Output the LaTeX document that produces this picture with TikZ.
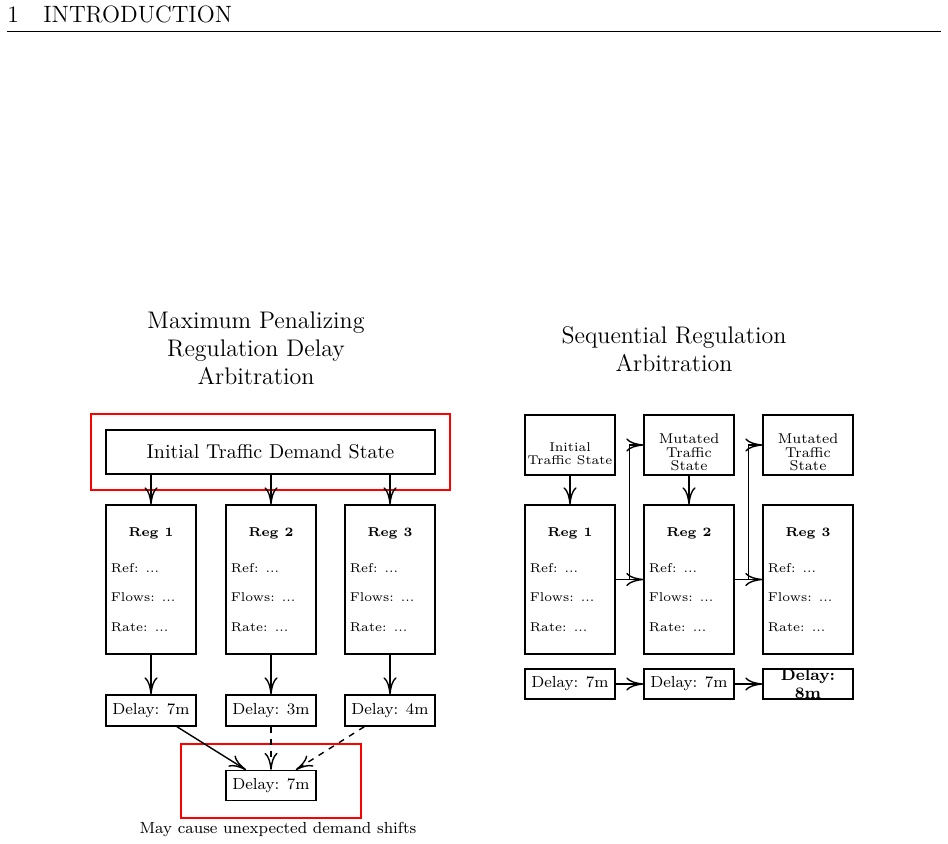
\documentclass[tikz,border=0pt]{standalone}
\usetikzlibrary{arrows.meta,calc}
\begin{document}
\begin{tikzpicture}[x=0.5pt,y=-0.5pt,
  box/.style={draw, line width=0.7pt, inner sep=0pt, minimum width=45pt},
  regbox/.style={box, minimum height=74.5pt},
  delaybox/.style={box, minimum height=15.5pt, font=\footnotesize},
  redbox/.style={draw=red, line width=0.7pt, inner sep=0pt},
  regtitle/.style={inner sep=0pt, font=\fontsize{6.4}{7}\selectfont\bfseries},
  regline/.style={inner sep=0pt, anchor=west, font=\fontsize{6.4}{7}\selectfont},
  statetext/.style={inner sep=0pt, align=center},
  arr/.style={-{Computer Modern Rightarrow[length=8.5pt,width=6.5pt]}, line width=0.7pt},
  darr/.style={arr, dashed}]
\useasboundingbox (0,0) rectangle (948,844);
% header
\node[inner sep=0pt, anchor=base west, font=\fontsize{11.8}{13}\selectfont] (hnum) at (7,23) {1};
\node[inner sep=0pt, anchor=base west, font=\fontsize{11.8}{13}\selectfont] (htxt) at (43,23) {INTRODUCTION};
\draw[line width=0.4pt] (7,31) -- (941,31);
% titles
\node[statetext, font=\large] (ltitle) at (256,348.5) {Maximum Penalizing\\Regulation Delay\\Arbitration};
\node[statetext, font=\large] (rtitle) at (674,349) {Sequential Regulation\\Arbitration};
% ---------- left diagram ----------
\node[redbox, minimum width=179.5pt, minimum height=38pt] (lred) at (270.5,452) {};
\node[box, minimum width=164.5pt, minimum height=22pt] (top) at (270.5,452) {Initial Traffic Demand State};
\foreach \i/\x/\t in {1/151/7m,2/271/3m,3/390/4m}{
  \node[regbox] (lr\i) at (\x,579.5) {};
  \node[regtitle] (lrt\i) at (\x,533) {Reg \i};
  \node[regline] (lra\i) at (\x-40.5,568) {Ref: ...};
  \node[regline] (lrb\i) at (\x-40.5,597) {Flows: ...};
  \node[regline] (lrc\i) at (\x-40.5,627) {Rate: ...};
  \node[delaybox] (ld\i) at (\x,710.5) {Delay: \t};
  \draw[arr] (lr\i.north |- top.south) -- (lr\i.north);
  \draw[arr] (lr\i.south) -- (ld\i.north);
}
\node[redbox, minimum width=90pt, minimum height=37pt] (bred) at (271,781) {};
\node[delaybox, minimum height=15pt] (final) at (271,785.5) {Delay: 7m};
\draw[arr] (ld1) -- (final);
\draw[darr] (ld2) -- (final);
\draw[darr] (ld3) -- (final);
\node[inner sep=0pt, font=\footnotesize] (cap) at (278,829) {May cause unexpected demand shifts};
% ---------- right diagram ----------
\node[box, minimum height=30pt] (s1) at (570,445) {};
\node[statetext, font=\fontsize{6.35}{6.5}\selectfont] (s1t) at (570,453.5) {Initial\\Traffic State};
\foreach \i/\x in {2/689,3/808}{
  \node[box, minimum height=30pt] (s\i) at (\x,445) {};
  \node[statetext, font=\fontsize{7.1}{6.75}\selectfont] (s\i t) at (\x,452.5) {Mutated\\Traffic\\State};
}
\foreach \i/\x in {1/570,2/689,3/808}{
  \node[regbox] (rr\i) at (\x,579.5) {};
  \node[regtitle] (rrt\i) at (\x,533) {Reg \i};
  \node[regline] (rra\i) at (\x-40.5,568) {Ref: ...};
  \node[regline] (rrb\i) at (\x-40.5,597) {Flows: ...};
  \node[regline] (rrc\i) at (\x-40.5,627) {Rate: ...};
  \node[delaybox, minimum height=15pt] (rd\i) at (\x,684) {};
}
\node[inner sep=0pt, font=\footnotesize] (rd1t) at (rd1) {Delay: 7m};
\node[inner sep=0pt, font=\footnotesize] (rd2t) at (rd2) {Delay: 7m};
\node[statetext, font=\fontsize{8}{9}\selectfont\bfseries] (rd3t) at (808,684.5) {Delay:\\8m};
\draw[arr] (s1) -- (rr1);
\draw[arr] (s2) -- (rr2);
\draw[arr] (rr1.east) -- (rr2.west);
\draw[arr] (rr2.east) -- (rr3.west);
\coordinate (b1) at ($(rr1.east)!0.5!(rr2.west)$);
\coordinate (b2) at ($(rr2.east)!0.5!(rr3.west)$);
\draw[arr] (b1) |- (s2.west);
\draw[arr] (b2) |- (s3.west);
\draw[arr] (rd1) -- (rd2);
\draw[arr] (rd2) -- (rd3);
\end{tikzpicture}
\end{document}
